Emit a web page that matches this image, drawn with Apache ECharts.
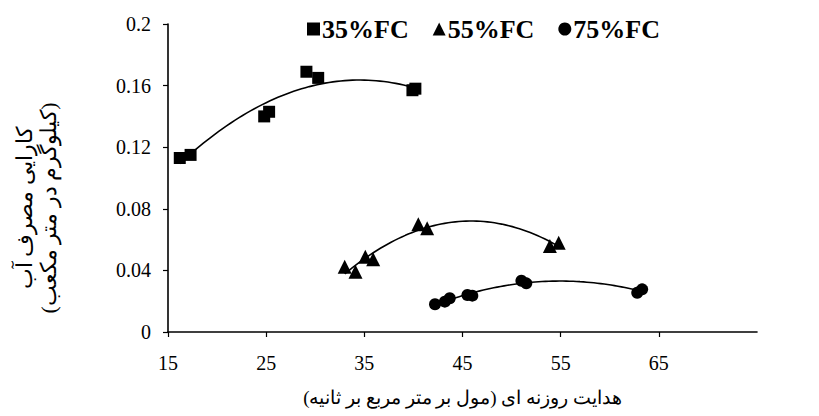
<!DOCTYPE html>
<html><head><meta charset="utf-8">
<script src="https://cdn.jsdelivr.net/npm/echarts/dist/echarts.min.js"></script>
<style>html,body{margin:0;padding:0;background:#fff}#c{width:819px;height:416px}</style>
</head><body><div id="c"></div>
<script>
const xTicks = [15, 25, 35, 45, 55, 65];
const yTicks = [0, 0.04, 0.08, 0.12, 0.16, 0.2];
const seriesNames = ['35%FC', '55%FC', '75%FC'];
const fc35X = [16.2, 17.3, 24.8, 25.3, 29.1, 30.3, 39.9, 40.2];
const fc35Y = [0.113, 0.115, 0.140, 0.143, 0.169, 0.165, 0.157, 0.158];
const fc55X = [33.0, 34.1, 35.1, 35.9, 40.5, 41.4, 53.9, 54.8];
const fc55Y = [0.0424, 0.0392, 0.0489, 0.0472, 0.0699, 0.0673, 0.0558, 0.058];
const fc75X = [42.2, 43.2, 43.7, 45.5, 46.0, 51.0, 51.5, 62.8, 63.3];
const fc75Y = [0.018, 0.0197, 0.0219, 0.024, 0.0236, 0.0333, 0.0316, 0.0255, 0.0277];
const xTitle = '\u200Fهدایت روزنه ای (مول بر متر مربع بر ثانیه)\u200F';
const yTitle = '\u200Fکارایی مصرف آب\u200F\n\u200F(کیلوگرم در متر مکعب)\u200F';

function quadFit(xs, ys) {
  let s = [0,0,0,0,0], t = [0,0,0];
  for (let i = 0; i < xs.length; i++) {
    let p = 1;
    for (let k = 0; k < 5; k++) { s[k] += p; if (k < 3) t[k] += p * ys[i]; p *= xs[i]; }
  }
  const A = [[s[0],s[1],s[2],t[0]],[s[1],s[2],s[3],t[1]],[s[2],s[3],s[4],t[2]]];
  for (let i = 0; i < 3; i++) {
    for (let j = i+1; j < 3; j++) {
      const f = A[j][i] / A[i][i];
      for (let k = i; k < 4; k++) A[j][k] -= f * A[i][k];
    }
  }
  const c = [0,0,0];
  for (let i = 2; i >= 0; i--) {
    let v = A[i][3];
    for (let k = i+1; k < 3; k++) v -= A[i][k] * c[k];
    c[i] = v / A[i][i];
  }
  const lo = Math.min(...xs), hi = Math.max(...xs), pts = [];
  for (let i = 0; i <= 60; i++) {
    const x = lo + (hi - lo) * i / 60;
    pts.push([x, c[0] + c[1]*x + c[2]*x*x]);
  }
  return pts;
}
const zip = (a, b) => a.map((v, i) => [v, b[i]]);
const groups = [[fc35X, fc35Y, 'rect', 12], [fc55X, fc55Y, 'triangle', 14], [fc75X, fc75Y, 'circle', 12]];
const series = [];
groups.forEach((g, i) => {
  series.push({ type: 'line', data: quadFit(g[0], g[1]), showSymbol: false, symbol: 'none',
    lineStyle: { color: '#000', width: 1.6 }, silent: true, z: 3, smooth: false });
});
groups.forEach((g, i) => {
  series.push({ name: seriesNames[i], type: 'scatter', data: zip(g[0], g[1]), symbol: g[2],
    symbolSize: g[3], itemStyle: { color: '#000', opacity: 1 }, z: 2 });
});
const font = 'Liberation Serif, "Times New Roman", DejaVu Serif, serif';
const chart = echarts.init(document.getElementById('c'), null, { renderer: 'svg' });
chart.setOption({
  animation: false,
  backgroundColor: '#fff',
  grid: { left: 168, right: 62, top: 24, bottom: 84, containLabel: false },
  legend: {
    data: seriesNames, top: 11, left: 302, itemGap: 24, itemWidth: 13, itemHeight: 13,
    textStyle: { fontFamily: font, fontWeight: 'bold', fontSize: 26, color: '#000', padding: [0,0,0,-3] },
    itemStyle: { color: '#000' }
  },
  xAxis: {
    type: 'value', min: 15, max: 75, interval: 10,
    name: xTitle, nameLocation: 'middle', nameGap: 56,
    nameTextStyle: { fontFamily: font, fontSize: 19, color: '#000' },
    axisLine: { show: true, onZero: false, lineStyle: { color: '#000', width: 1.6 } },
    axisTick: { show: true, length: 5, inside: false, customValues: xTicks, lineStyle: { color: '#000', width: 1.2 } },
    axisLabel: { customValues: xTicks, margin: 21, fontFamily: font, fontSize: 20, color: '#000' },
    splitLine: { show: false }
  },
  yAxis: {
    type: 'value', min: 0, max: 0.2, interval: 0.04,
    axisLine: { show: true, lineStyle: { color: '#000', width: 1.6 } },
    axisTick: { show: true, length: 5, inside: false, customValues: yTicks, lineStyle: { color: '#000', width: 1.2 } },
    axisLabel: { customValues: yTicks, margin: 17, fontFamily: font, fontSize: 20, color: '#000',
      formatter: v => String(+v.toFixed(2)) },
    splitLine: { show: false }
  },
  graphic: [{
    type: 'text', x: 36, y: 208, rotation: Math.PI / 2,
    style: { text: yTitle, fontFamily: font, fontSize: 22, fill: '#000', align: 'center',
      verticalAlign: 'middle', lineHeight: 24 }
  }],
  series: series
});
</script></body></html>
